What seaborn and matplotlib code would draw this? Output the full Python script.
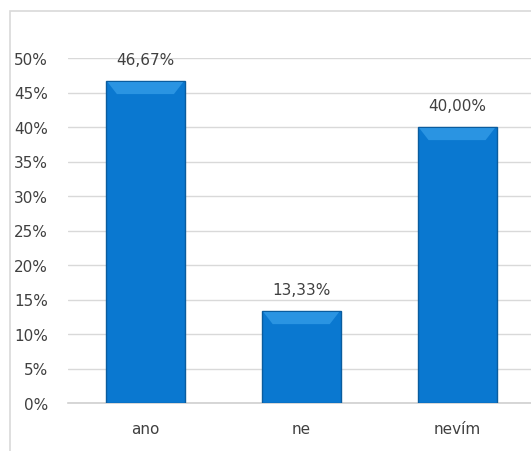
import matplotlib
matplotlib.use("Agg")
import matplotlib.pyplot as plt
import seaborn as sns
import pandas as pd
from matplotlib.patches import Rectangle, Polygon

categories = ["ano", "ne", "nevím"]
values = [46.67, 13.33, 40.00]
yticks = [0, 5, 10, 15, 20, 25, 30, 35, 40, 45, 50]

sns.set_theme(style="white")
plt.rcParams['font.family'] = ['DejaVu Sans']

df = pd.DataFrame({"cat": categories, "val": values})

fig = plt.figure(figsize=(5.31, 4.52), dpi=100)
ax = fig.add_axes([67.5/531, (452-404)/452, 1 - 67.5/531, (404-59)/452])

sns.barplot(data=df, x="cat", y="val", ax=ax, color="#0A78D0", width=0.506,
            saturation=1, edgecolor="#0A5C9E", linewidth=1.0, zorder=3)

# subtle bevel: lighter trapezoid at the top of each bar
for p in ax.patches[:len(values)]:
    x0 = p.get_x(); w = p.get_width(); h = p.get_height()
    d = 0.07
    ax.add_patch(Polygon([(x0 + 0.01, h - 0.15), (x0 + w - 0.01, h - 0.15),
                          (x0 + w - d, h - 1.9), (x0 + d, h - 1.9)],
                         closed=True, facecolor="#2A94E2", edgecolor="none",
                         zorder=4))

ax.set_xlim(-0.5, 2.5 - 4/156)
ax.set_ylim(0, 50)
ax.set_yticks(yticks)
ax.set_yticklabels([f"{t}%" for t in yticks])
ax.yaxis.grid(True, color="#D9D9D9", linewidth=1.0, zorder=0)
ax.set_axisbelow(True)
for s in ["top", "right", "left"]:
    ax.spines[s].set_visible(False)
ax.spines["bottom"].set_color("#D0D0D0")
ax.spines["bottom"].set_linewidth(1.2)
ax.tick_params(axis="y", length=0, pad=14, labelsize=11, labelcolor="#404040")
ax.tick_params(axis="x", length=0, pad=13, labelsize=11, labelcolor="#404040")
ax.set_xlabel("")
ax.set_ylabel("")

for i, v in enumerate(values):
    ax.annotate(f"{v:.2f}".replace(".", ",") + "%", (i, v), xytext=(0, 10),
                textcoords="offset points", ha="center", va="bottom",
                fontsize=11, color="#404040", annotation_clip=False)

# outer chart frame
fig.patches.append(Rectangle((10/531, -0.05), 1.2, (452-12)/452 + 0.05,
                             transform=fig.transFigure, fill=False,
                             edgecolor="#D9D9D9", linewidth=1.2))

fig.savefig("out.png", dpi=100)
